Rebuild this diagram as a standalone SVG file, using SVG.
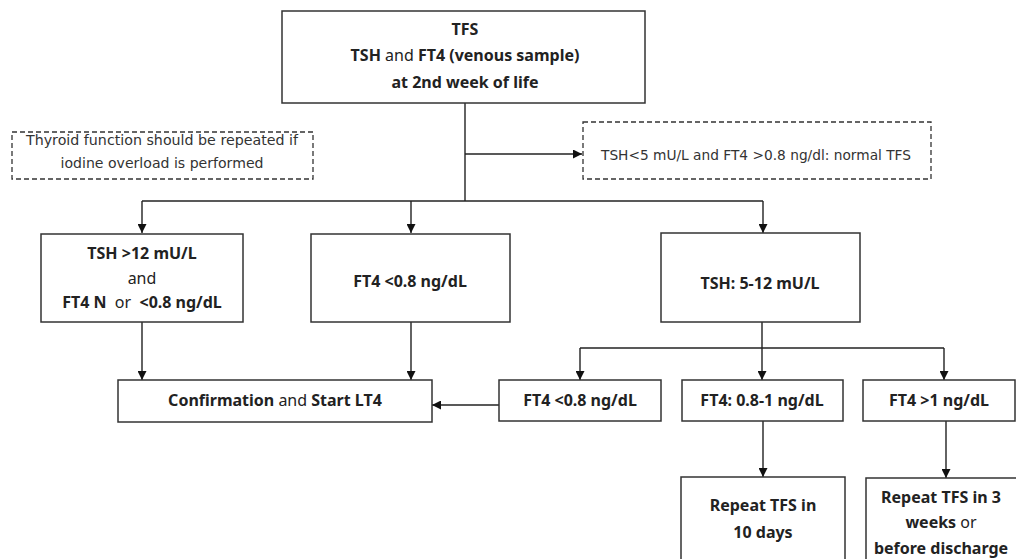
<svg xmlns="http://www.w3.org/2000/svg" width="1016" height="559" viewBox="0 0 1016 559">
<style>
.box{fill:#fff;stroke:#333;stroke-width:1.5}
.dash{fill:#fff;stroke:#333;stroke-width:1.3;stroke-dasharray:5 3}
.t{font-family:"Noto Sans","Open Sans",sans-serif;font-size:16px;fill:#222;text-anchor:middle}
.b{font-weight:bold}
.n{font-weight:normal}
.s{font-family:"DejaVu Sans",Verdana,sans-serif;font-size:13.5px;fill:#333;text-anchor:middle}
.c{fill:none;stroke:#222;stroke-width:1.4}
</style>
<defs>
<marker id="ar" viewBox="0 0 10 10" refX="10" refY="5" markerWidth="9" markerHeight="9" markerUnits="userSpaceOnUse" orient="auto">
<path d="M0,0 L10,5 L0,10 z" fill="#111"/>
</marker>
</defs>
<g id="connectors">
<path class="c" d="M465,103 V201"/>
<path class="c" d="M465,154 H582" marker-end="url(#ar)"/>
<path class="c" d="M142,201 H763"/>
<path class="c" d="M142,201 V233" marker-end="url(#ar)"/>
<path class="c" d="M411,201 V233" marker-end="url(#ar)"/>
<path class="c" d="M763,201 V233" marker-end="url(#ar)"/>
<path class="c" d="M142,322 V380" marker-end="url(#ar)"/>
<path class="c" d="M411,322 V380" marker-end="url(#ar)"/>
<path class="c" d="M762,322 V348"/>
<path class="c" d="M580,348 H944"/>
<path class="c" d="M580,348 V380" marker-end="url(#ar)"/>
<path class="c" d="M762,348 V380" marker-end="url(#ar)"/>
<path class="c" d="M944,348 V380" marker-end="url(#ar)"/>
<path class="c" d="M499,405 H432" marker-end="url(#ar)"/>
<path class="c" d="M763,421 V477" marker-end="url(#ar)"/>
<path class="c" d="M946,421 V478" marker-end="url(#ar)"/>
</g>
<g id="tfs">
<rect class="box" x="282" y="11" width="363" height="92"/>
<text class="t b" x="465" y="35">TFS</text>
<text class="t b" x="465" y="61">TSH <tspan class="n">and</tspan> FT4 (venous sample)</text>
<text class="t b" x="465" y="88">at 2nd week of life</text>
</g>
<g id="note-left">
<rect class="dash" x="12" y="132" width="301" height="47"/>
<text class="s" x="162" y="145" textLength="272" lengthAdjust="spacingAndGlyphs">Thyroid function should be repeated if</text>
<text class="s" x="162" y="168" textLength="203" lengthAdjust="spacingAndGlyphs">iodine overload is performed</text>
</g>
<g id="note-right">
<rect class="dash" x="583" y="122" width="348" height="57"/>
<text class="s" x="756" y="160" textLength="310" lengthAdjust="spacingAndGlyphs">TSH&lt;5 mU/L and FT4 &gt;0.8 ng/dl: normal TFS</text>
</g>
<g id="tsh12">
<rect class="box" x="41" y="234" width="202" height="88"/>
<text class="t b" x="142" y="259">TSH &gt;12 mU/L</text>
<text class="t" x="142" y="284">and</text>
<text class="t b" x="142" y="308" xml:space="preserve">FT4 N  <tspan class="n">or</tspan>  &lt;0.8 ng/dL</text>
</g>
<g id="ft4low">
<rect class="box" x="311" y="234" width="199" height="88"/>
<text class="t b" x="410" y="287">FT4 &lt;0.8 ng/dL</text>
</g>
<g id="tsh512">
<rect class="box" x="661" y="233" width="199" height="89"/>
<text class="t b" x="760" y="289">TSH: 5-12 mU/L</text>
</g>
<g id="confirm">
<rect class="box" x="118" y="380" width="314" height="42"/>
<text class="t b" x="275" y="406">Confirmation <tspan class="n">and</tspan> Start LT4</text>
</g>
<g id="ft4low2">
<rect class="box" x="499" y="380" width="162" height="41"/>
<text class="t b" x="580" y="406">FT4 &lt;0.8 ng/dL</text>
</g>
<g id="ft4mid">
<rect class="box" x="682" y="380" width="161" height="41"/>
<text class="t b" x="762" y="406">FT4: 0.8-1 ng/dL</text>
</g>
<g id="ft4high">
<rect class="box" x="863" y="380" width="152" height="41"/>
<text class="t b" x="939" y="406">FT4 &gt;1 ng/dL</text>
</g>
<g id="repeat10">
<rect class="box" x="681" y="477" width="164" height="90"/>
<text class="t b" x="763" y="511">Repeat TFS in</text>
<text class="t b" x="763" y="538">10 days</text>
</g>
<g id="repeat3w">
<rect class="box" x="866" y="478" width="152" height="90"/>
<text class="t b" x="941" y="503">Repeat TFS in 3</text>
<text class="t b" x="941" y="528">weeks <tspan class="n">or</tspan></text>
<text class="t b" x="941" y="554">before discharge</text>
</g>
</svg>
